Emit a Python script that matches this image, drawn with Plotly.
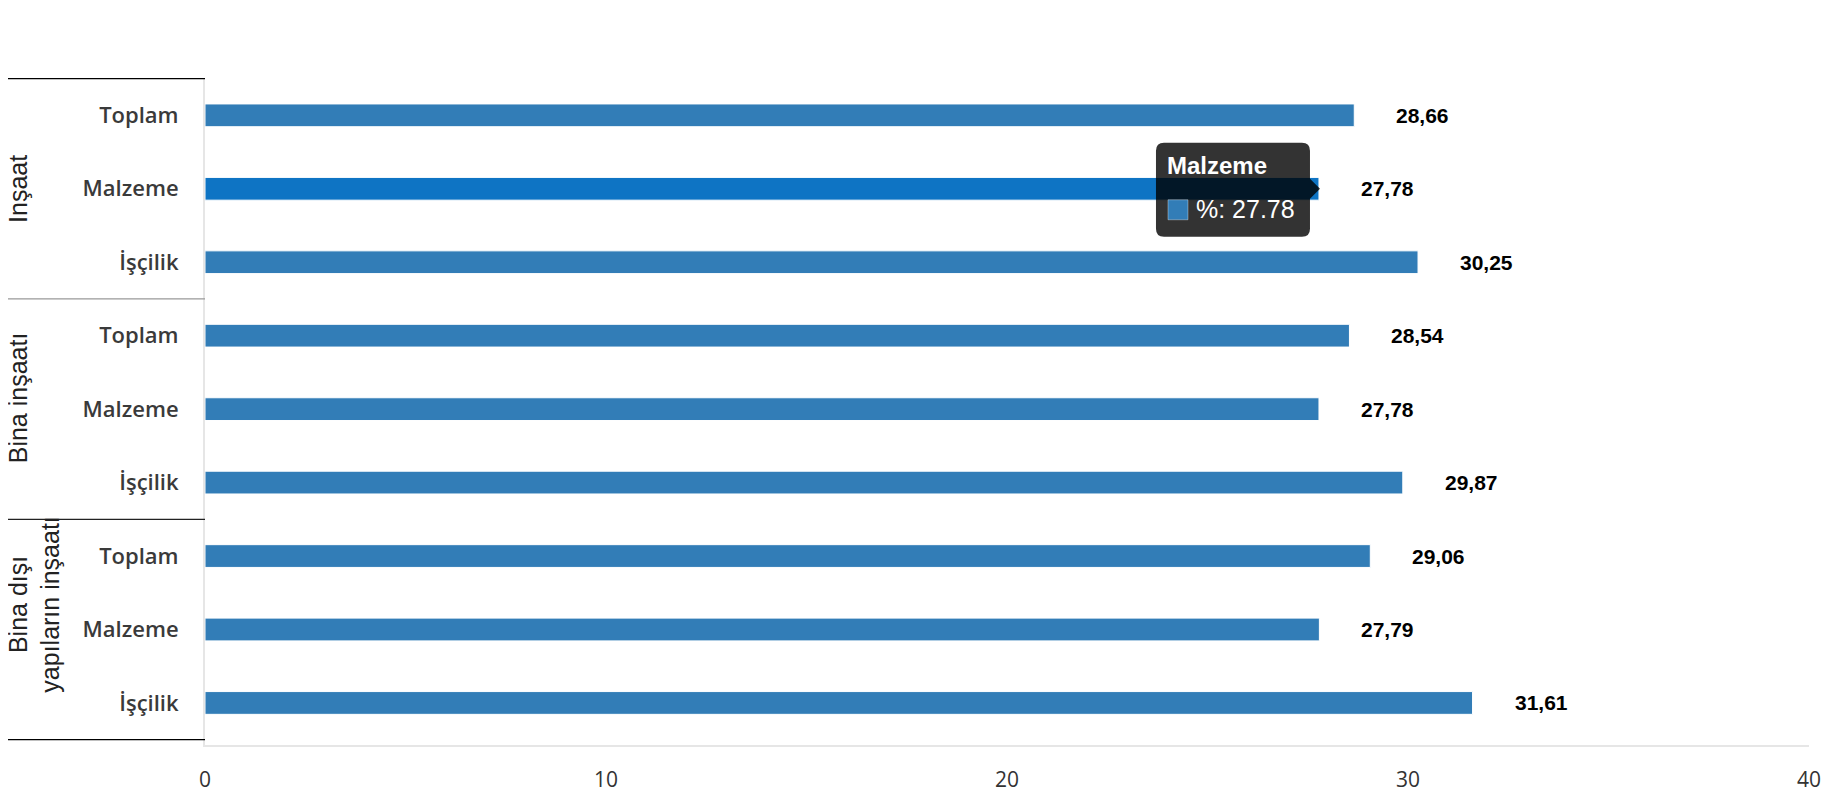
import plotly.graph_objects as go

groups = ["İnşaat", "Bina inşaatı", "Bina dışı<br>yapıların inşaatı"]
components = ["Toplam", "Malzeme", "İşçilik"]
values = [28.66, 27.78, 30.25, 28.54, 27.78, 29.87, 29.06, 27.79, 31.61]
hovered = 1  # bar under the tooltip in the screenshot

keys = [f"{g}|{c}" for g in groups for c in components]
labels = [c for g in groups for c in components]
colors = ["#0e74c4" if i == hovered else "#327db7" for i in range(len(values))]

fig = go.Figure(
    go.Bar(
        x=values,
        y=keys,
        orientation="h",
        width=0.31,
        marker=dict(color=colors, line=dict(color="#ffffff", width=1)),
        hoverinfo="skip",
    )
)

# data labels with comma decimals
for k, v in zip(keys, values):
    fig.add_annotation(
        x=v, y=k, xref="x", yref="y",
        text=f"{v:.2f}".replace(".", ","),
        showarrow=False, xanchor="left", xshift=40,
        font=dict(family="Liberation Sans", size=21, color="#000000", weight="bold"),
    )

# group labels, rotated
group_x = [-0.1165, -0.1165, -0.1065]
group_shift = [0, 11, 25]
for i, g in enumerate(groups):
    fig.add_annotation(
        x=group_x[i], xref="paper", xanchor="center",
        y=keys[i * 3 + 1], yref="y", yanchor="middle",
        text=g, textangle=-90, showarrow=False,
        yshift=group_shift[i],
        font=dict(family="Liberation Sans", size=25, color="#222222"),
    )

# group dividers
divider_colors = ["#000000", "#999999", "#222222", "#000000"]
for j, dc in enumerate(divider_colors):
    fig.add_shape(
        type="line", xref="paper", yref="y",
        x0=-0.13, x1=0, y0=j * 3 - 0.5, y1=j * 3 - 0.5,
        line=dict(color=dc, width=1.2),
    )

# tooltip as it appears in the screenshot
tip_v = values[hovered]
fig.add_shape(
    type="path", xref="x", yref="y",
    xsizemode="pixel", ysizemode="pixel",
    xanchor=tip_v, yanchor=hovered,
    path=("M-155,46 L-17,46 Q-9,46 -9,38 L-9,10 L1,0 L-9,-10 L-9,-40 "
          "Q-9,-48 -17,-48 L-155,-48 Q-163,-48 -163,-40 L-163,38 Q-163,46 -155,46 Z"),
    fillcolor="rgba(0,0,0,0.8)", line=dict(width=0),
)
fig.add_shape(
    type="path", xref="x", yref="y",
    xsizemode="pixel", ysizemode="pixel",
    xanchor=tip_v, yanchor=hovered,
    path="M-151,-11 L-131,-11 L-131,-31 L-151,-31 Z",
    fillcolor="#327db7", line=dict(color="rgba(255,255,255,0.35)", width=1),
)
fig.add_annotation(
    x=tip_v, y=keys[hovered], xref="x", yref="y",
    text="<b>Malzeme</b>", showarrow=False,
    xanchor="left", xshift=-154, yshift=23,
    font=dict(family="Liberation Sans", size=24, color="#ffffff"),
)
fig.add_annotation(
    x=tip_v, y=keys[hovered], xref="x", yref="y",
    text=f"%: {tip_v:.2f}", showarrow=False,
    xanchor="left", xshift=-125, yshift=-20,
    font=dict(family="Liberation Sans", size=25, color="#ffffff"),
)

fig.update_layout(
    width=1814,
    height=784,
    margin=dict(l=197, r=13, t=70, b=47),
    plot_bgcolor="#ffffff",
    paper_bgcolor="#ffffff",
    showlegend=False,
    xaxis=dict(
        range=[0, 40],
        dtick=10,
        showgrid=False,
        zeroline=False,
        showline=True,
        linecolor="#e6e6e6",
        linewidth=2,
        ticks="",
        ticklabelstandoff=15,
        automargin=False,
        tickfont=dict(family="Open Sans", size=21, color="#333333"),
    ),
    yaxis=dict(
        type="category",
        categoryorder="array",
        categoryarray=keys,
        tickvals=keys,
        ticktext=labels,
        autorange="reversed",
        showgrid=False,
        showline=True,
        linecolor="#e6e6e6",
        linewidth=2,
        ticks="",
        ticklabelstandoff=20,
        automargin=False,
        tickfont=dict(family="Open Sans", size=22, color="#3a3a3a", weight=600),
    ),
)

fig.write_html("out.html")
